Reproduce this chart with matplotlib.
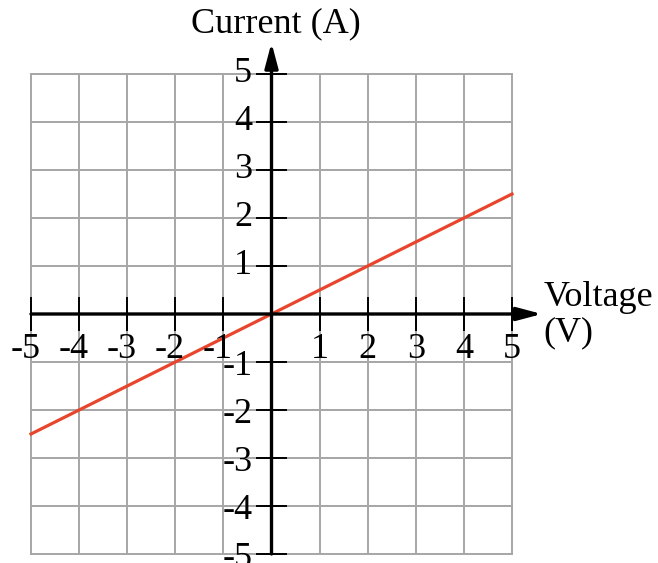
import matplotlib.pyplot as plt

# data
voltage = [-5, -4, -3, -2, -1, 0, 1, 2, 3, 4, 5]
current = [-2.5, -2.0, -1.5, -1.0, -0.5, 0.0, 0.5, 1.0, 1.5, 2.0, 2.5]
x_ticks = [-5, -4, -3, -2, -1, 1, 2, 3, 4, 5]
y_ticks = [-5, -4, -3, -2, -1, 1, 2, 3, 4, 5]

plt.rcParams['font.family'] = ['Liberation Serif', 'DejaVu Serif']

fig = plt.figure(figsize=(6.58, 5.63), dpi=100)
ax = fig.add_axes([31 / 658, 9 / 563, 481 / 658, 480 / 563])
ax.set_xlim(-5, 5)
ax.set_ylim(-5, 5)
for s in ax.spines.values():
    s.set_visible(False)
ax.set_xticks([])
ax.set_yticks([])

# grid
for v in range(-5, 6):
    ax.plot([v, v], [-5, 5], color='#a6a6a6', lw=1.4, zorder=1, clip_on=False)
    ax.plot([-5, 5], [v, v], color='#a6a6a6', lw=1.4, zorder=1, clip_on=False)

# axes with arrows
arrow = dict(arrowstyle='-|>,head_length=1.5,head_width=0.4',
             color='black', lw=2.4, shrinkA=0, shrinkB=0)
ax.annotate('', xy=(5.62, 0), xytext=(-5, 0), arrowprops=arrow,
            annotation_clip=False, zorder=3)
ax.annotate('', xy=(0, 5.65), xytext=(0, -5), arrowprops=arrow,
            annotation_clip=False, zorder=3)

# tick crosses
for t in x_ticks:
    ax.plot([t, t], [-0.33, 0.33], color='black', lw=1.4, zorder=3, clip_on=False)
for t in y_ticks:
    ax.plot([-0.3, 0.3], [t, t], color='black', lw=1.4, zorder=3, clip_on=False)

# tick labels
fs = 26
for t in x_ticks:
    if t < 0:
        ax.text(t + 0.2, -0.75, str(t), ha='right', va='center', fontsize=fs, zorder=4)
    else:
        ax.text(t, -0.75, str(t), ha='center', va='center', fontsize=fs, zorder=4)
for t in y_ticks:
    ax.text(-0.4, t - (0.1 if t < 0 else 0), str(t), ha='right', va='center',
            fontsize=fs, zorder=4)

# the line
ax.plot(voltage, current, color='#e8452c', lw=2.3, zorder=2, clip_on=False)

# axis titles
ax.text(0.1, 6.05, 'Current (A)', ha='center', va='center', fontsize=fs, clip_on=False)
ax.text(5.65, 0.35, 'Voltage', ha='left', va='center', fontsize=fs, clip_on=False)
ax.text(5.65, -0.4, '(V)', ha='left', va='center', fontsize=fs, clip_on=False)

fig.savefig('out.png', dpi=100)
